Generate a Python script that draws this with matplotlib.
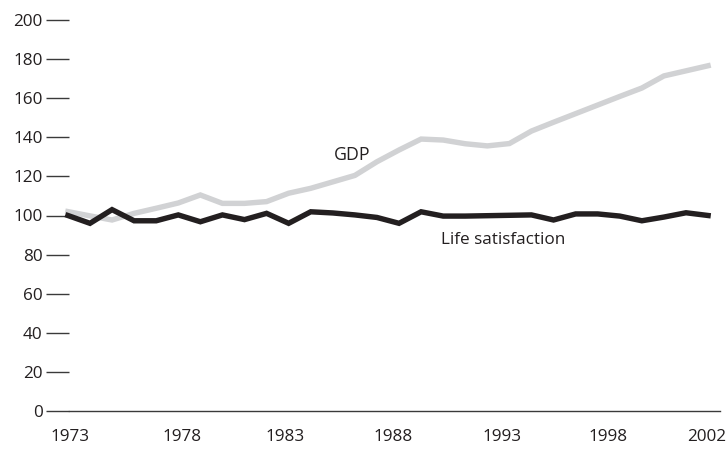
import matplotlib
matplotlib.use('Agg')
import matplotlib.pyplot as plt

# Dados (indice, 1973 = 100)
anos = list(range(1973, 2003))
pib = [102, 99.8, 97.7, 101.1, 103.7, 106.4, 110.5, 106.2, 106.2, 107.1,
       111.4, 113.9, 117.2, 120.5, 127.5, 133.5, 139.1, 138.6, 136.7, 135.6,
       136.8, 143.2, 147.7, 152.1, 156.5, 160.9, 165.2, 171.4, 174.0, 176.6]
satisfacao = [100, 96, 103, 97.3, 97.3, 100.3, 96.8, 100.3, 97.9, 101.1,
              96, 101.9, 101.3, 100.3, 99, 96, 101.9, 99.7, 99.7, 99.9,
              100.1, 100.3, 97.7, 100.8, 100.8, 99.7, 97.3, 99.2, 101.4, 100]

rotulos_x = ['1973', '1978', '1983', '1988', '1993', '1998', '2002']
posicoes_x = [1973.1, 1978.15, 1982.85, 1987.75, 1992.65, 1997.45, 2001.95]
valores_y = [0, 20, 40, 60, 80, 100, 120, 140, 160, 180, 200]

plt.rcParams['font.family'] = ['Open Sans', 'DejaVu Sans']

fig = plt.figure(figsize=(7.27, 4.49), dpi=100)
W, H = 727, 449
esq, dir_, topo, base = 69, 720, 20, 411
ax = fig.add_axes([esq / W, 1 - base / H, (dir_ - esq) / W, (base - topo) / H])

ax.plot(anos, pib, color='#d1d2d4', lw=3.9, solid_joinstyle='miter', clip_on=False, zorder=2)
ax.plot(anos, satisfacao, color='#231f20', lw=3.9, solid_joinstyle='miter', clip_on=False, zorder=3)

ax.set_xlim(1973.05, 2002.54)
ax.set_ylim(0, 200)

for lado in ['top', 'right', 'left']:
    ax.spines[lado].set_visible(False)
ax.spines['bottom'].set_color('#3a3a3a')
ax.spines['bottom'].set_linewidth(1.0)

ax.set_yticks(valores_y)
ax.set_yticklabels([str(v) for v in valores_y])
ax.tick_params(axis='y', direction='out', length=16.5, width=1.0, color='#3a3a3a',
               pad=2.5, labelsize=12.3, labelcolor='#231f20')

ax.set_xticks(posicoes_x)
ax.set_xticklabels(rotulos_x)
ax.tick_params(axis='x', length=0, pad=13, labelsize=12.3, labelcolor='#231f20')

ax.text(1985.87, 131, 'GDP', ha='center', va='center', fontsize=12.8, color='#231f20')
ax.text(1992.7, 87.5, 'Life satisfaction', ha='center', va='center', fontsize=12.3, color='#231f20')

fig.savefig('out.png', dpi=100)
